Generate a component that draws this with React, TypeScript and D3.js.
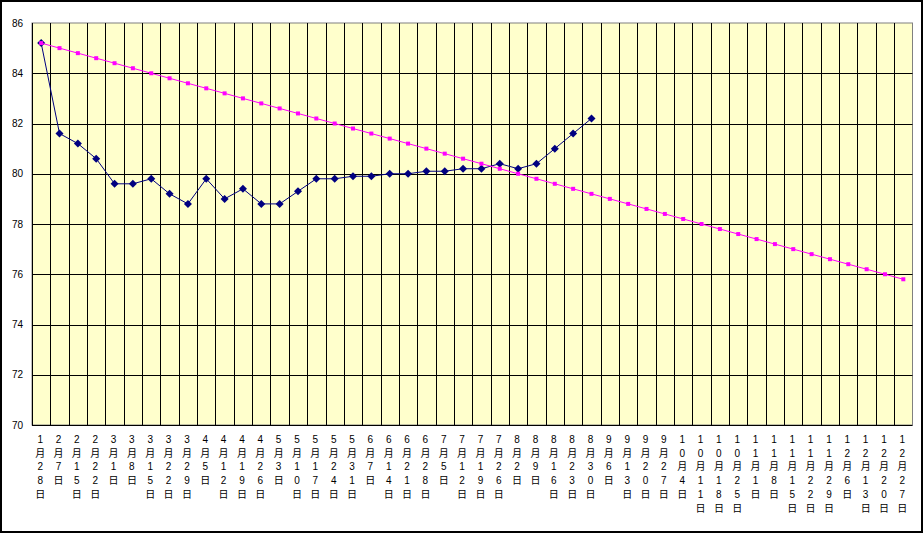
import React, { useEffect, useRef } from "react";
import * as d3 from "d3";

const categories: string[] = [
  "1月28日", "2月7日", "2月15日", "2月22日", "3月1日", "3月8日", "3月15日", "3月22日",
  "3月29日", "4月5日", "4月12日", "4月19日", "4月26日", "5月3日", "5月10日", "5月17日",
  "5月24日", "5月31日", "6月7日", "6月14日", "6月21日", "6月28日", "7月5日", "7月12日",
  "7月19日", "7月26日", "8月2日", "8月9日", "8月16日", "8月23日", "8月30日", "9月6日",
  "9月13日", "9月20日", "9月27日", "10月4日", "10月11日", "10月18日", "10月25日", "11月1日",
  "11月8日", "11月15日", "11月22日", "11月29日", "12月6日", "12月13日", "12月20日", "12月27日",
];

const actual: number[] = [
  85.2, 81.6, 81.2, 80.6, 79.6, 79.6, 79.8, 79.2, 78.8, 79.8, 79.0, 79.4, 78.8, 78.8, 79.3, 79.8,
  79.8, 79.9, 79.9, 80.0, 80.0, 80.1, 80.1, 80.2, 80.2, 80.4, 80.2, 80.4, 81.0, 81.6, 82.2,
];

const target: number[] = [
  85.2, 85.0, 84.8, 84.6, 84.4, 84.2, 84.0, 83.8, 83.6, 83.4, 83.2, 83.0, 82.8, 82.6, 82.4, 82.2,
  82.0, 81.8, 81.6, 81.4, 81.2, 81.0, 80.8, 80.6, 80.4, 80.2, 80.0, 79.8, 79.6, 79.4, 79.2, 79.0,
  78.8, 78.6, 78.4, 78.2, 78.0, 77.8, 77.6, 77.4, 77.2, 77.0, 76.8, 76.6, 76.4, 76.2, 76.0, 75.8,
];

const yTicks: number[] = [70, 72, 74, 76, 78, 80, 82, 84, 86];

const W = 924;
const H = 533;
const plot = { left: 32, top: 23, right: 912.5, bottom: 425 };
const FONT = "'Liberation Sans', Arial, 'Noto Sans CJK JP', sans-serif";

export default function App() {
  const ref = useRef<SVGSVGElement | null>(null);

  useEffect(() => {
    document.body.style.margin = "0";
    const svg = d3.select(ref.current);
    svg.selectAll("*").remove();

    const x = d3
      .scaleBand<string>()
      .domain(categories)
      .range([plot.left, plot.right])
      .paddingInner(0)
      .paddingOuter(0);
    const cx = (i: number) => (x(categories[i]) as number) + x.bandwidth() / 2;
    const y = d3.scaleLinear().domain([70, 86]).range([plot.bottom, plot.top]);

    // outer border
    svg
      .append("rect")
      .attr("x", 1)
      .attr("y", 1)
      .attr("width", W - 3)
      .attr("height", H - 2)
      .attr("fill", "#fff")
      .attr("stroke", "#000")
      .attr("stroke-width", 2);

    // plot area
    svg
      .append("rect")
      .attr("x", plot.left)
      .attr("y", plot.top)
      .attr("width", plot.right - plot.left)
      .attr("height", plot.bottom - plot.top)
      .attr("fill", "#FFFFCC")
      .attr("stroke", "#808080")
      .attr("stroke-width", 1);

    // horizontal gridlines
    svg
      .append("g")
      .selectAll("line")
      .data(yTicks.filter((t) => t !== 70 && t !== 86))
      .join("line")
      .attr("x1", plot.left)
      .attr("x2", plot.right)
      .attr("y1", (d) => Math.round(y(d)) + 0.5)
      .attr("y2", (d) => Math.round(y(d)) + 0.5)
      .attr("stroke", "#000")
      .attr("stroke-width", 1);

    // vertical gridlines (category boundaries)
    const bounds = categories.map((c) => x(c) as number).slice(1);
    svg
      .append("g")
      .selectAll("line")
      .data(bounds)
      .join("line")
      .attr("x1", (d) => Math.round(d) + 0.5)
      .attr("x2", (d) => Math.round(d) + 0.5)
      .attr("y1", plot.top)
      .attr("y2", plot.bottom)
      .attr("stroke", "#000")
      .attr("stroke-width", 1);

    // axes lines
    svg
      .append("line")
      .attr("x1", plot.left + 0.5)
      .attr("x2", plot.left + 0.5)
      .attr("y1", plot.top)
      .attr("y2", plot.bottom)
      .attr("stroke", "#000");
    svg
      .append("line")
      .attr("x1", plot.left)
      .attr("x2", plot.right)
      .attr("y1", plot.bottom + 0.5)
      .attr("y2", plot.bottom + 0.5)
      .attr("stroke", "#000");

    // y tick labels
    svg
      .append("g")
      .selectAll("text")
      .data(yTicks)
      .join("text")
      .attr("x", 23)
      .attr("y", (d) => y(d) + 3.5)
      .attr("text-anchor", "end")
      .attr("font-family", FONT)
      .attr("font-size", 10)
      .attr("fill", "#000")
      .text((d) => String(d));

    // x labels: vertical stacked characters
    const xl = svg.append("g");
    categories.forEach((c, i) => {
      const t = xl
        .append("text")
        .attr("font-family", FONT)
        .attr("font-size", 10)
        .attr("fill", "#000")
        .attr("text-anchor", "middle");
      Array.from(c).forEach((ch, k) => {
        t.append("tspan")
          .attr("x", cx(i) - 1)
          .attr("y", 443 + k * 13.7)
          .text(ch);
      });
    });

    // actual series
    const line = d3
      .line<number>()
      .x((_, i) => cx(i))
      .y((d) => y(d));

    svg
      .append("path")
      .datum(actual)
      .attr("d", line)
      .attr("fill", "none")
      .attr("stroke", "#000080")
      .attr("stroke-width", 1);
    svg
      .append("g")
      .selectAll("path")
      .data(actual)
      .join("path")
      .attr("transform", (d, i) => `translate(${cx(i)},${y(d)})`)
      .attr("d", "M0,-4L4,0L0,4L-4,0Z")
      .attr("fill", "#000080");

    // target series
    svg
      .append("path")
      .datum(target)
      .attr("d", line)
      .attr("fill", "none")
      .attr("stroke", "#FF00FF")
      .attr("stroke-width", 1);
    svg
      .append("g")
      .selectAll("rect")
      .data(target)
      .join("rect")
      .attr("x", (d, i) => cx(i) - 2)
      .attr("y", (d) => y(d) - 2)
      .attr("width", 4)
      .attr("height", 4)
      .attr("fill", "#FF00FF");
  }, []);

  return (
    <svg
      ref={ref}
      width={W}
      height={H}
      style={{ position: "absolute", left: 0, top: 0, display: "block" }}
    />
  );
}
